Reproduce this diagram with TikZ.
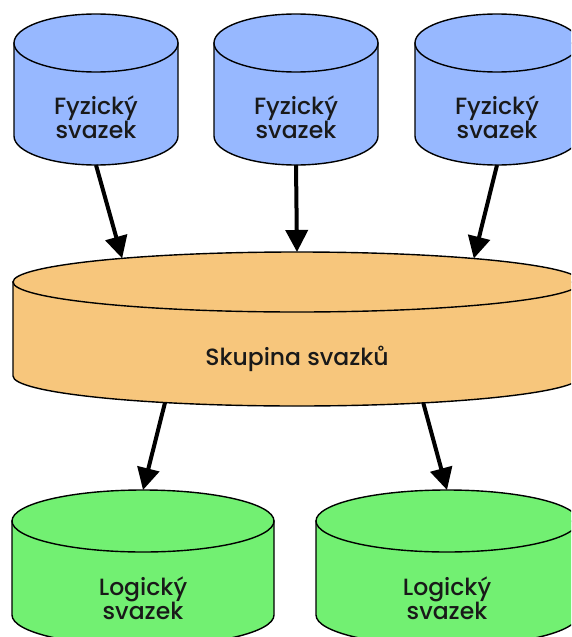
\documentclass[tikz,border=0pt]{standalone}
\usepackage{fontspec}
\setmainfont{Poppins Medium}
\usetikzlibrary{arrows.meta,calc}

\definecolor{physblue}{HTML}{97B8FF}
\definecolor{grouporange}{HTML}{F7C67C}
\definecolor{loggreen}{HTML}{72F072}

\tikzset{
  drum/.style={draw=black,line width=1.4pt},
  label/.style={align=center,font=\fontsize{23.5}{24}\selectfont,inner sep=0pt,text=black!90},
  link/.style={line width=4pt,-{Triangle[length=22pt,width=22pt]}}
}

% \drawdrum{name}{cx}{top centre y}{bottom centre y}{rx}{ry}{fill}
\newcommand\drawdrum[7]{%
  \coordinate (#1-t) at (#2,#3);
  \coordinate (#1-b) at (#2,#4);
  \filldraw[drum,fill=#7] (#2-#5,#3) -- (#2-#5,#4)
    arc[start angle=180,end angle=360,x radius=#5,y radius=#6]
    -- (#2+#5,#3) -- cycle;
  \filldraw[drum,fill=#7] (#1-t) ellipse[x radius=#5,y radius=#6];
}

\begin{document}
\begin{tikzpicture}[x=1pt,y=1pt]
\useasboundingbox (0,0) rectangle (571,-637);
\clip (0,0) rectangle (571,-637);

% physical volumes
\drawdrum{pv1}{96}{-43}{-136}{82}{29}{physblue}
\drawdrum{pv2}{296}{-43}{-136}{82}{29}{physblue}
\drawdrum{pv3}{497}{-43}{-136}{82}{29}{physblue}
\node[label] (pv1l) at (96,-117) {Fyzický\\svazek};
\node[label] (pv2l) at (296,-117) {Fyzický\\svazek};
\node[label] (pv3l) at (497,-117) {Fyzický\\svazek};

% volume group
\drawdrum{vg}{297}{-282}{-376}{284}{30}{grouporange}
\node[label] (vgl) at (297,-359) {Skupina svazků};

% logical volumes
\drawdrum{lv1}{143}{-521}{-615}{131}{31}{loggreen}
\drawdrum{lv2}{447}{-521}{-615}{131}{31}{loggreen}
\node[label] (lv1l) at (143,-598) {Logický\\svazek};
\node[label] (lv2l) at (447,-598) {Logický\\svazek};

% attachment points on the ellipses
\coordinate (pv1o) at ($(pv1-b)+(270:82 and 29)$);
\coordinate (pv2o) at ($(pv2-b)+(270:82 and 29)$);
\coordinate (pv3o) at ($(pv3-b)+(270:82 and 29)$);
\coordinate (vgi1) at ($(vg-t)+(128:284 and 30)$);
\coordinate (vgi2) at ($(vg-t)+(90:284 and 30)$);
\coordinate (vgi3) at ($(vg-t)+(51.5:284 and 30)$);
\coordinate (vgo1) at ($(vg-b)+(242.3:284 and 30)$);
\coordinate (vgo2) at ($(vg-b)+(296.4:284 and 30)$);
\coordinate (lv1i) at ($(lv1-t)+(90:131 and 31)$);
\coordinate (lv2i) at ($(lv2-t)+(90:131 and 31)$);

% arrows
\draw[link] (pv1o) -- (vgi1);
\draw[link] (pv2o) -- (vgi2);
\draw[link] (pv3o) -- (vgi3);
\draw[link] (vgo1) -- (lv1i);
\draw[link] (vgo2) -- (lv2i);
\end{tikzpicture}
\end{document}
